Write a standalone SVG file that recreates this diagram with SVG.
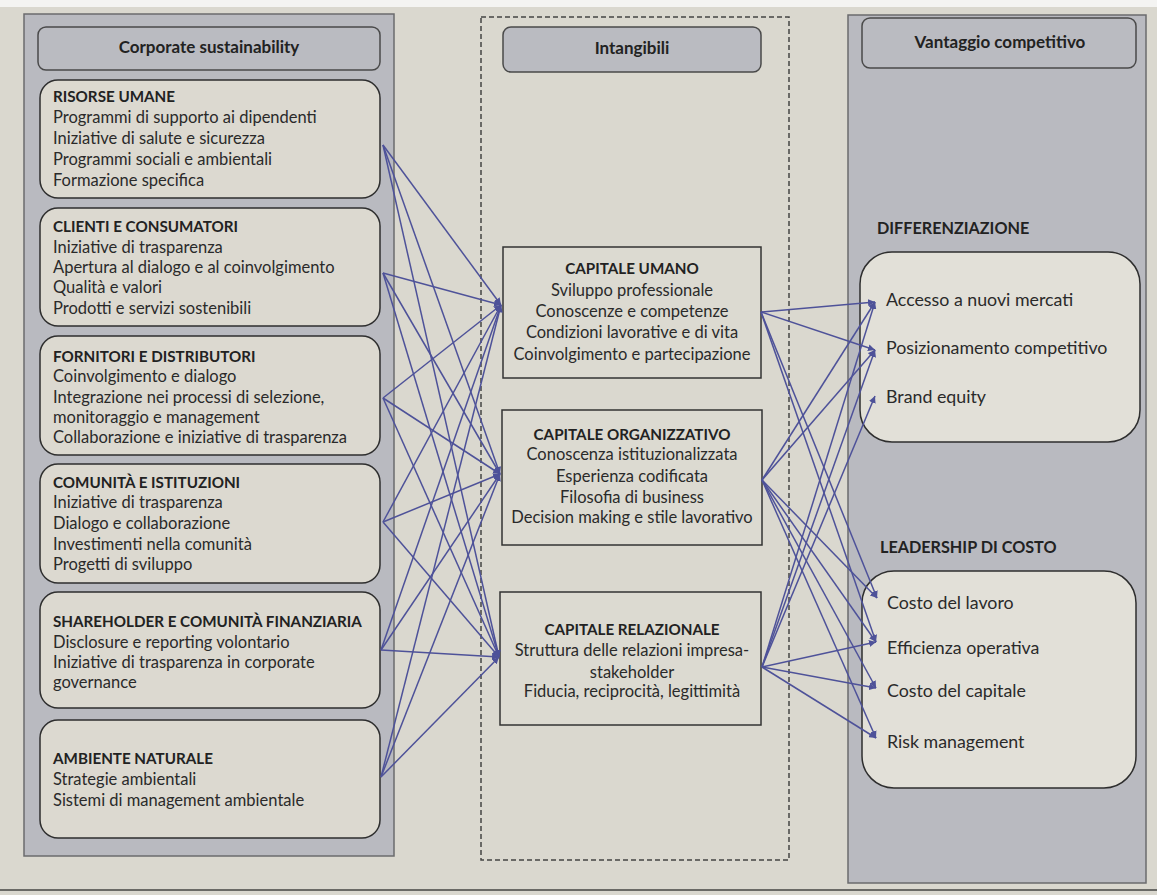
<svg xmlns="http://www.w3.org/2000/svg" width="1157" height="895" viewBox="0 0 1157 895">
  <style>
    .txt { font-family: Lato, "Liberation Sans", sans-serif; font-size: 16.5px; fill: #2a2a2a; }
    .item { font-family: Lato, "Liberation Sans", sans-serif; font-size: 17.8px; fill: #2a2a2a; }
    .ttl { font-family: Lato, "Liberation Sans", sans-serif; font-size: 15.2px; font-weight: bold; fill: #222; }
    .grp { font-family: Lato, "Liberation Sans", sans-serif; font-size: 16.2px; font-weight: bold; fill: #222; }
    .hdr { font-family: Lato, "Liberation Sans", sans-serif; font-size: 17px; font-weight: bold; fill: #222; text-anchor: middle; }
    .mid { text-anchor: middle; }
    .panel { fill: #b9bac0; stroke: #6b6b6e; stroke-width: 1.5; }
    .header { fill: #babbc1; stroke: #4a4a4a; stroke-width: 1.5; }
    .node { fill: #dcd9d0; stroke: #2e2e2e; stroke-width: 1.5; }
    .cap { fill: #dcdad1; stroke: #333; stroke-width: 1.5; }
    .group { fill: #e2e0d8; stroke: #2e2e2e; stroke-width: 1.5; }
    .link { stroke: #4e5299; stroke-width: 1.5; fill: none; marker-end: url(#tip); }
  </style>
  <defs>
    <marker id="tip" viewBox="0 0 10 10" refX="10" refY="5" markerWidth="7" markerHeight="7" markerUnits="userSpaceOnUse" orient="auto">
      <path d="M0,0 L10,5 L0,10 z" fill="#4e5299"/>
    </marker>
  </defs>

  <!-- page -->
  <rect x="0" y="0" width="1157" height="895" fill="#dad8cf"/>
  <rect x="0" y="0" width="1157" height="7" fill="#f4f4f2"/>
  <line x1="0" y1="890" x2="1157" y2="890" stroke="#6a6a66" stroke-width="2"/>

  <!-- left column: corporate sustainability -->
  <g id="col-sustainability">
    <rect class="panel" x="24" y="14" width="370" height="842"/>
    <rect class="header" x="38" y="27" width="342" height="43" rx="8"/>
    <text class="hdr" x="209" y="53">Corporate sustainability</text>
  </g>

  <g id="risorse-umane">
    <rect class="node" x="40" y="80" width="340" height="118" rx="18"/>
    <text class="ttl" x="53" y="102">RISORSE UMANE</text>
    <text class="txt" x="53" y="123">Programmi di supporto ai dipendenti</text>
    <text class="txt" x="53" y="144">Iniziative di salute e sicurezza</text>
    <text class="txt" x="53" y="165">Programmi sociali e ambientali</text>
    <text class="txt" x="53" y="186">Formazione specifica</text>
  </g>

  <g id="clienti-consumatori">
    <rect class="node" x="40" y="208" width="340" height="118" rx="18"/>
    <text class="ttl" x="53" y="232">CLIENTI E CONSUMATORI</text>
    <text class="txt" x="53" y="253">Iniziative di trasparenza</text>
    <text class="txt" x="53" y="273">Apertura al dialogo e al coinvolgimento</text>
    <text class="txt" x="53" y="293">Qualità e valori</text>
    <text class="txt" x="53" y="314">Prodotti e servizi sostenibili</text>
  </g>

  <g id="fornitori-distributori">
    <rect class="node" x="40" y="336" width="340" height="119" rx="18"/>
    <text class="ttl" x="53" y="362">FORNITORI E DISTRIBUTORI</text>
    <text class="txt" x="53" y="382">Coinvolgimento e dialogo</text>
    <text class="txt" x="53" y="403">Integrazione nei processi di selezione,</text>
    <text class="txt" x="53" y="423">monitoraggio e management</text>
    <text class="txt" x="53" y="443">Collaborazione e iniziative di trasparenza</text>
  </g>

  <g id="comunita-istituzioni">
    <rect class="node" x="40" y="464" width="340" height="119" rx="18"/>
    <text class="ttl" x="53" y="488">COMUNITÀ E ISTITUZIONI</text>
    <text class="txt" x="53" y="508">Iniziative di trasparenza</text>
    <text class="txt" x="53" y="529">Dialogo e collaborazione</text>
    <text class="txt" x="53" y="550">Investimenti nella comunità</text>
    <text class="txt" x="53" y="570">Progetti di sviluppo</text>
  </g>

  <g id="shareholder">
    <rect class="node" x="40" y="592" width="340" height="116" rx="18"/>
    <text class="ttl" x="53" y="627">SHAREHOLDER E COMUNITÀ FINANZIARIA</text>
    <text class="txt" x="53" y="648">Disclosure e reporting volontario</text>
    <text class="txt" x="53" y="668">Iniziative di trasparenza in corporate</text>
    <text class="txt" x="53" y="688">governance</text>
  </g>

  <g id="ambiente-naturale">
    <rect class="node" x="40" y="720" width="340" height="118" rx="18"/>
    <text class="ttl" x="53" y="764">AMBIENTE NATURALE</text>
    <text class="txt" x="53" y="785">Strategie ambientali</text>
    <text class="txt" x="53" y="806">Sistemi di management ambientale</text>
  </g>

  <!-- middle column: intangibles -->
  <g id="col-intangibili">
    <rect x="481" y="17" width="308" height="843" fill="none" stroke="#444" stroke-width="1.5" stroke-dasharray="5 3"/>
    <rect class="header" x="503" y="27" width="258" height="45" rx="8"/>
    <text class="hdr" x="632" y="54">Intangibili</text>
  </g>

  <g id="capitale-umano">
    <rect class="cap" x="503" y="247" width="258" height="131"/>
    <text class="ttl mid" x="632" y="274">CAPITALE UMANO</text>
    <text class="txt mid" x="632" y="296">Sviluppo professionale</text>
    <text class="txt mid" x="632" y="317">Conoscenze e competenze</text>
    <text class="txt mid" x="632" y="338">Condizioni lavorative e di vita</text>
    <text class="txt mid" x="632" y="360">Coinvolgimento e partecipazione</text>
  </g>

  <g id="capitale-organizzativo">
    <rect class="cap" x="502" y="410" width="260" height="135"/>
    <text class="ttl mid" x="632" y="440">CAPITALE ORGANIZZATIVO</text>
    <text class="txt mid" x="632" y="460">Conoscenza istituzionalizzata</text>
    <text class="txt mid" x="632" y="482">Esperienza codificata</text>
    <text class="txt mid" x="632" y="503">Filosofia di business</text>
    <text class="txt mid" x="632" y="523">Decision making e stile lavorativo</text>
  </g>

  <g id="capitale-relazionale">
    <rect class="cap" x="500" y="592" width="261" height="133"/>
    <text class="ttl mid" x="632" y="635">CAPITALE RELAZIONALE</text>
    <text class="txt mid" x="632" y="656">Struttura delle relazioni impresa-</text>
    <text class="txt mid" x="632" y="678">stakeholder</text>
    <text class="txt mid" x="632" y="697">Fiducia, reciprocità, legittimità</text>
  </g>

  <!-- right column: competitive advantage -->
  <g id="col-vantaggio">
    <rect class="panel" x="848" y="15" width="298" height="868"/>
    <rect class="header" x="862" y="18" width="274" height="50" rx="8"/>
    <text class="hdr" x="1000" y="48">Vantaggio competitivo</text>
  </g>

  <g id="differenziazione">
    <text class="grp" x="877" y="234">DIFFERENZIAZIONE</text>
    <rect class="group" x="860" y="252" width="280" height="190" rx="32"/>
    <text class="item" x="886" y="306">Accesso a nuovi mercati</text>
    <text class="item" x="886" y="354">Posizionamento competitivo</text>
    <text class="item" x="886" y="403">Brand equity</text>
  </g>

  <g id="leadership-costo">
    <text class="grp" x="880" y="553">LEADERSHIP DI COSTO</text>
    <rect class="group" x="862" y="571" width="274" height="217" rx="32"/>
    <text class="item" x="887" y="609">Costo del lavoro</text>
    <text class="item" x="887" y="654">Efficienza operativa</text>
    <text class="item" x="887" y="697">Costo del capitale</text>
    <text class="item" x="887" y="748">Risk management</text>
  </g>

  <!-- connectors -->
  <g id="connectors">
    <!-- stakeholder areas to intangible capitals -->
    <line class="link" x1="383" y1="145" x2="501" y2="305"/>
    <line class="link" x1="383" y1="145" x2="500" y2="474"/>
    <line class="link" x1="383" y1="145" x2="499" y2="657"/>
    <line class="link" x1="383" y1="273" x2="501" y2="305"/>
    <line class="link" x1="383" y1="273" x2="500" y2="474"/>
    <line class="link" x1="383" y1="273" x2="499" y2="657"/>
    <line class="link" x1="383" y1="398" x2="501" y2="305"/>
    <line class="link" x1="383" y1="398" x2="500" y2="474"/>
    <line class="link" x1="383" y1="398" x2="499" y2="657"/>
    <line class="link" x1="383" y1="522" x2="501" y2="305"/>
    <line class="link" x1="383" y1="522" x2="500" y2="474"/>
    <line class="link" x1="383" y1="522" x2="499" y2="657"/>
    <line class="link" x1="381" y1="650" x2="501" y2="305"/>
    <line class="link" x1="381" y1="650" x2="500" y2="474"/>
    <line class="link" x1="381" y1="650" x2="499" y2="657"/>
    <line class="link" x1="381" y1="777" x2="501" y2="305"/>
    <line class="link" x1="381" y1="777" x2="500" y2="474"/>
    <line class="link" x1="381" y1="777" x2="499" y2="657"/>
    <!-- intangible capitals to competitive advantage -->
    <line class="link" x1="761" y1="312" x2="875" y2="302"/>
    <line class="link" x1="761" y1="312" x2="875" y2="350"/>
    <line class="link" x1="761" y1="312" x2="877" y2="598"/>
    <line class="link" x1="761" y1="312" x2="876" y2="642"/>
    <line class="link" x1="762" y1="480" x2="875" y2="302"/>
    <line class="link" x1="762" y1="480" x2="875" y2="350"/>
    <line class="link" x1="762" y1="480" x2="877" y2="598"/>
    <line class="link" x1="762" y1="480" x2="876" y2="642"/>
    <line class="link" x1="762" y1="480" x2="876" y2="688"/>
    <line class="link" x1="762" y1="480" x2="876" y2="738"/>
    <line class="link" x1="762" y1="667" x2="875" y2="302"/>
    <line class="link" x1="762" y1="667" x2="875" y2="350"/>
    <line class="link" x1="762" y1="667" x2="875" y2="396"/>
    <line class="link" x1="762" y1="667" x2="876" y2="642"/>
    <line class="link" x1="762" y1="667" x2="876" y2="688"/>
    <line class="link" x1="762" y1="667" x2="876" y2="738"/>
  </g>
</svg>
